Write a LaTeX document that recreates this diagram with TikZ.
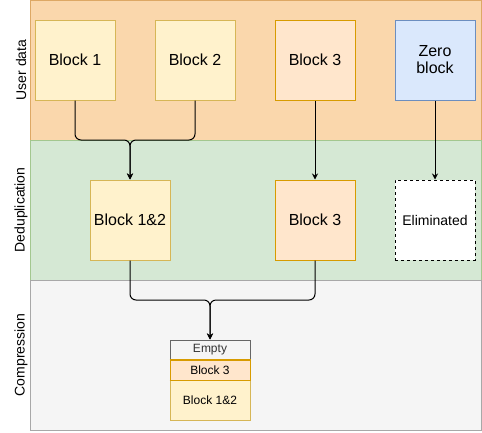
\documentclass[tikz,border=0pt]{standalone}
\usepackage{fontspec}
\setmainfont{Liberation Sans}
\usetikzlibrary{arrows.meta}
\definecolor{bandO}{HTML}{FAD7AC}
\definecolor{bandOd}{HTML}{DDA865}
\definecolor{bandG}{HTML}{D5E8D4}
\definecolor{bandGd}{HTML}{A3C78F}
\definecolor{bandY}{HTML}{F5F5F5}
\definecolor{bandYd}{HTML}{A8A8A8}
\definecolor{yelF}{HTML}{FFF2CC}
\definecolor{yelD}{HTML}{D6B656}
\definecolor{orF}{HTML}{FFE6CC}
\definecolor{orD}{HTML}{D79B00}
\definecolor{bluF}{HTML}{DAE8FC}
\definecolor{bluD}{HTML}{6C8EBF}
\definecolor{grD}{HTML}{666666}
\definecolor{grT}{HTML}{333333}
\tikzset{
  blk/.style={minimum width=80pt, minimum height=80pt, inner sep=0pt, font=\fontsize{16}{18}\selectfont, align=center, line width=1pt},
  yb/.style={blk, fill=yelF, draw=yelD},
  ob/.style={blk, fill=orF, draw=orD},
  bb/.style={blk, fill=bluF, draw=bluD},
  eb/.style={blk, fill=white, draw=black, dashed, font=\fontsize{14}{16}\selectfont},
  lane/.style={rotate=90, font=\fontsize{14}{16}\selectfont},
  conn/.style={line width=1pt, rounded corners=6pt, -{Stealth[length=6pt,width=6pt]}},
  stk/.style={minimum width=80pt, inner sep=0pt, font=\fontsize{12}{14}\selectfont, line width=1pt},
}
\begin{document}
\begin{tikzpicture}[x=1pt,y=-1pt]
\useasboundingbox (0,0) rectangle (482,432);
% bands
\draw[fill=bandO, draw=bandOd, line width=1pt] (30,0.5) rectangle (481.5,140);
\draw[fill=bandG, draw=bandGd, line width=1pt] (30,140) rectangle (481.5,280);
\draw[fill=bandY, draw=bandYd, line width=1pt] (30,280) rectangle (481.5,430);
\node[lane] (l1) at (21,70) {User data};
\node[lane] (l2) at (21,210) {Deduplication};
\node[lane] (l3) at (21,355) {Compression};
% top blocks
\node[yb] (b1) at (75,60) {Block 1};
\node[yb] (b2) at (195,60) {Block 2};
\node[ob] (b3) at (315,60) {Block 3};
\node[bb] (bz) at (435,60) {Zero\\[-1pt]block};
% dedup
\node[yb] (d12) at (130,220) {Block 1\&2};
\node[ob] (d3) at (315,220) {Block 3};
\node[eb] (de) at (435,220) {Eliminated};
% compression stack
\node[stk, minimum height=20pt, fill=bandY, draw=grD, text=grT] (ce) at (210,350) {Empty};
\node[stk, minimum height=20pt, fill=orF, draw=orD] (c3) at (210,370) {Block 3};
\node[stk, minimum height=40pt, fill=yelF, draw=yelD] (c12) at (210,400) {Block 1\&2};
\draw[draw=orD, line width=1pt] (c3.north west) -- (c3.north east);
\draw[draw=orD, line width=1pt] (c3.south west) -- (c3.south east);
% connectors
\coordinate (j1) at (130,140);
\coordinate (j2) at (210,300);
\draw[conn] (b1.south) |- (j1) -- (d12.north);
\draw[conn] (b2.south) |- (j1) -- (d12.north);
\draw[conn] (b3.south) -- (d3.north);
\draw[conn] (bz.south) -- (de.north);
\draw[conn] (d12.south) |- (j2) -- (ce.north);
\draw[conn] (d3.south) |- (j2) -- (ce.north);
\end{tikzpicture}
\end{document}
